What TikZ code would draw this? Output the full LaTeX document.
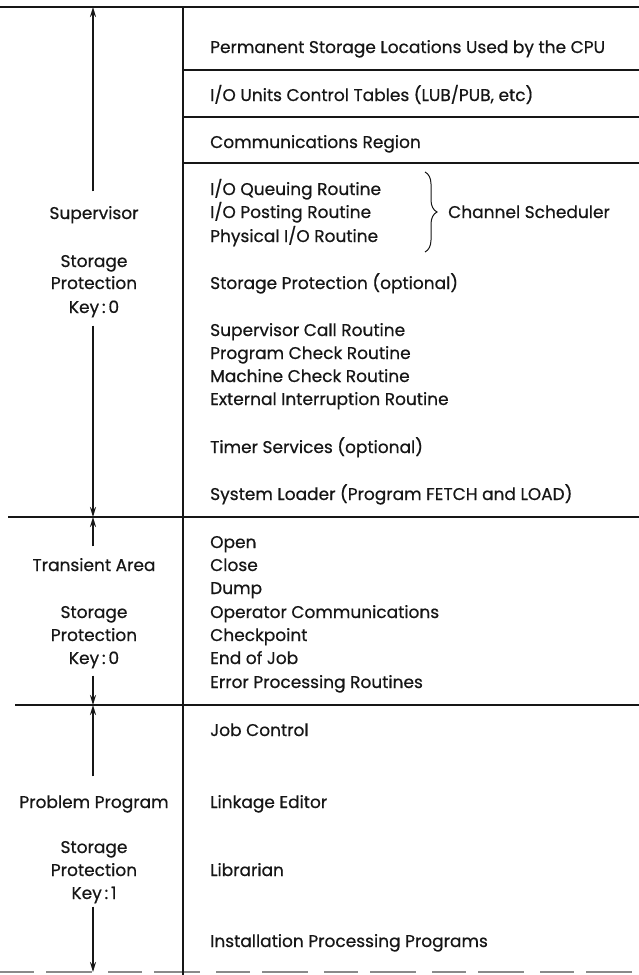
\documentclass[tikz,border=0pt]{standalone}
\usepackage{fontspec}
\setmainfont{Poppins}[FakeBold=0.6]
\usepackage{tikz}
\usetikzlibrary{arrows.meta}
\usetikzlibrary{decorations.pathreplacing}
\usepackage{xcolor}
\definecolor{Ink}{RGB}{22,22,22}
\tikzstyle{AreaText}=[inner sep=0pt,text height=12pt,text depth=0pt,
font=\fontsize{17}{20}\selectfont,text=Ink]
\tikzstyle{ItemText}=[AreaText,anchor=west]
\tikzstyle{RuleLine}=[Ink,line width=1.3pt]
\tikzstyle{BrokenRule}=[Ink!50,line width=1.3pt,dash pattern=on 34pt off 12pt on 46pt off 16pt]
\tikzstyle{ExtentArrow}=[Ink,line width=2pt,-{Stealth[length=10pt,width=6pt]}]
\tikzstyle{BraceLine}=[Ink,line width=1pt,decorate,decoration={brace,amplitude=12pt}]

\begin{document}
\begin{tikzpicture}[x=1pt,y=-1pt]
    \useasboundingbox (0,0) rectangle (639,975);
    % rules
    \draw[RuleLine](0,7)--(639,7);
    \draw[RuleLine](183,70)--(639,70);
    \draw[RuleLine](183,117)--(639,117);
    \draw[RuleLine](183,163)--(639,163);
    \draw[RuleLine](8,517)--(639,517);
    \draw[RuleLine](15,705)--(639,705);
    \draw[BrokenRule](0,972)--(639,972);
    \draw[RuleLine](183,7)--(183,975);
    % supervisor
    \node[ItemText](perm)at(210,47){Permanent Storage Locations Used by the CPU};
    \node[ItemText](units)at(210,95){I/O Units Control Tables (LUB/PUB, etc)};
    \node[ItemText](comm)at(210,142){Communications Region};
    \node[ItemText](queue)at(210,189){I/O Queuing Routine};
    \node[ItemText](post)at(210,212){I/O Posting Routine};
    \node[ItemText](phys)at(210,236){Physical I/O Routine};
    \node[ItemText](chan)at(448,212){Channel Scheduler};
    \node[ItemText](sprot)at(210,283){Storage Protection (optional)};
    \node[ItemText](svc)at(210,330){Supervisor Call Routine};
    \node[ItemText](pchk)at(210,353){Program Check Routine};
    \node[ItemText](mchk)at(210,376){Machine Check Routine};
    \node[ItemText](ext)at(210,399){External Interruption Routine};
    \node[ItemText](timer)at(210,447){Timer Services (optional)};
    \node[ItemText](loader)at(210,494){System Loader (Program FETCH and LOAD)};
    % transient
    \node[ItemText](open)at(210,542){Open};
    \node[ItemText](close)at(210,565){Close};
    \node[ItemText](dump)at(210,588){Dump};
    \node[ItemText](opcom)at(210,612){Operator Communications};
    \node[ItemText](chkpt)at(210,635){Checkpoint};
    \node[ItemText](eoj)at(210,658){End of Job};
    \node[ItemText](err)at(210,682){Error Processing Routines};
    % problem program
    \node[ItemText](jobctl)at(210,730){Job Control};
    \node[ItemText](linked)at(210,802){Linkage Editor};
    \node[ItemText](librn)at(210,870){Librarian};
    \node[ItemText](install)at(210,941){Installation Processing Programs};
    % brace
    \coordinate(brTop)at(425,172);
    \coordinate(brBot)at(425,252);
    \draw[BraceLine](brTop)--(brBot);
    % left column
    \node[AreaText](sup)at(94,213){Supervisor};
    \node[AreaText](storA)at(94,261){Storage};
    \node[AreaText](protA)at(94,283){Protection};
    \node[AreaText](keyA)at(94,307){Key\,:\,0};
    \node[AreaText](trans)at(94,565){Transient Area};
    \node[AreaText](storB)at(94,612){Storage};
    \node[AreaText](protB)at(94,635){Protection};
    \node[AreaText](keyB)at(94,658){Key\,:\,0};
    \node[AreaText](prob)at(94,802){Problem Program};
    \node[AreaText](storC)at(94,847){Storage};
    \node[AreaText](protC)at(94,870){Protection};
    \node[AreaText](keyC)at(94,893){Key\,:\,1};
    \coordinate(supTop)at(93,7);
    \coordinate(supBot)at(93,517);
    \coordinate(transTop)at(93,517);
    \coordinate(transBot)at(93,705);
    \coordinate(probTop)at(93,705);
    \coordinate(probBot)at(93,972);
    \draw[ExtentArrow,shorten <=15.5pt]([xshift=-1pt]sup.north)--(supTop);
    \draw[ExtentArrow,shorten <=12.5pt]([xshift=-1pt]keyA.south)--(supBot);
    \draw[ExtentArrow,shorten <=12.5pt]([xshift=-1pt]trans.north)--(transTop);
    \draw[ExtentArrow,shorten <=11.5pt]([xshift=-1pt]keyB.south)--(transBot);
    \draw[ExtentArrow,shorten <=19.5pt]([xshift=-1pt]prob.north)--(probTop);
    \draw[ExtentArrow,shorten <=7.5pt]([xshift=-1pt]keyC.south)--(probBot);
\end{tikzpicture}
\end{document}
